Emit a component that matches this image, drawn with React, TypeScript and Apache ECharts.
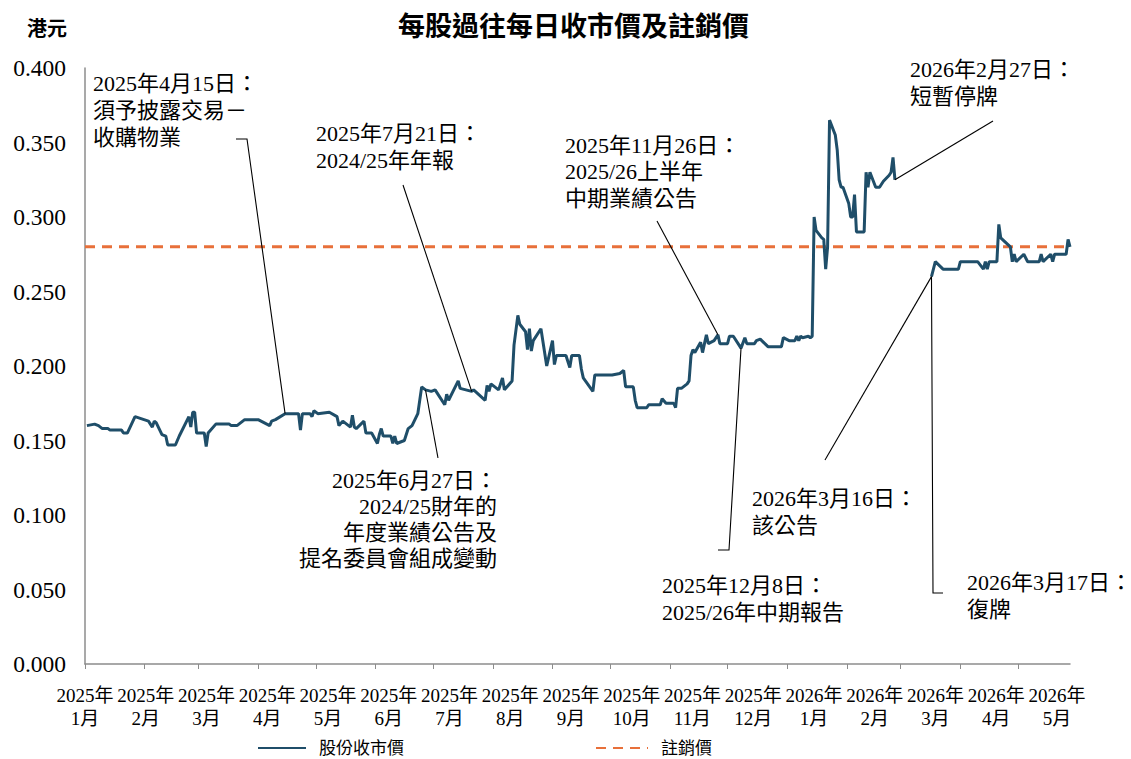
import React, { useEffect, useRef } from "react";
import * as echarts from "echarts";

const FONT = "'Liberation Serif', 'Times New Roman', 'Noto Sans CJK TC', serif";

const TITLE = "每股過往每日收市價及註銷價";
const UNIT = "港元";
const SERIES_PRICE = "股份收市價";
const SERIES_CANCEL = "註銷價";
const CANCEL_PRICE = 0.28;
const AXIS_START = "2025-01-01";
const AXIS_END = "2026-05-28";

const monthTickDates = [
  "2025-01-01", "2025-02-01", "2025-03-01", "2025-04-01", "2025-05-01", "2025-06-01",
  "2025-07-01", "2025-08-01", "2025-09-01", "2025-10-01", "2025-11-01", "2025-12-01",
  "2026-01-01", "2026-02-01", "2026-03-01", "2026-04-01", "2026-05-01",
];
const monthLabels = [
  "2025年\n1月", "2025年\n2月", "2025年\n3月", "2025年\n4月", "2025年\n5月", "2025年\n6月",
  "2025年\n7月", "2025年\n8月", "2025年\n9月", "2025年\n10月", "2025年\n11月", "2025年\n12月",
  "2026年\n1月", "2026年\n2月", "2026年\n3月", "2026年\n4月", "2026年\n5月",
];

const priceDates = [
  "2025-01-02","2025-01-06","2025-01-08","2025-01-10","2025-01-13","2025-01-14","2025-01-20","2025-01-21","2025-01-23","2025-01-27",
  "2025-02-03","2025-02-04","2025-02-05","2025-02-06","2025-02-07","2025-02-10","2025-02-12","2025-02-13","2025-02-17","2025-02-19",
  "2025-02-24","2025-02-25","2025-02-26","2025-02-27","2025-02-28","2025-03-04","2025-03-05","2025-03-06","2025-03-10","2025-03-17",
  "2025-03-18","2025-03-21","2025-03-25","2025-04-01","2025-04-07","2025-04-08","2025-04-10","2025-04-15","2025-04-22","2025-04-23",
  "2025-04-24","2025-04-28","2025-04-29","2025-04-30","2025-05-02","2025-05-08","2025-05-12","2025-05-13","2025-05-15","2025-05-19",
  "2025-05-20","2025-05-21","2025-05-22","2025-05-26","2025-05-27","2025-05-30","2025-06-02","2025-06-03","2025-06-04","2025-06-05",
  "2025-06-09","2025-06-10","2025-06-11","2025-06-12","2025-06-16","2025-06-18","2025-06-20","2025-06-23","2025-06-25","2025-06-27",
  "2025-06-30","2025-07-02","2025-07-03","2025-07-07","2025-07-08","2025-07-09","2025-07-14","2025-07-15","2025-07-21","2025-07-22",
  "2025-07-28","2025-07-29","2025-07-30","2025-07-31","2025-08-04","2025-08-06","2025-08-07","2025-08-11","2025-08-12","2025-08-14",
  "2025-08-15","2025-08-18","2025-08-19","2025-08-20","2025-08-21","2025-08-22","2025-08-26","2025-08-29","2025-09-01","2025-09-02",
  "2025-09-03","2025-09-08","2025-09-10","2025-09-11","2025-09-15","2025-09-16","2025-09-17","2025-09-22","2025-09-23","2025-10-02",
  "2025-10-06","2025-10-08","2025-10-09","2025-10-13","2025-10-14","2025-10-15","2025-10-20","2025-10-21","2025-10-27","2025-10-28",
  "2025-10-30","2025-11-03","2025-11-04","2025-11-05","2025-11-07","2025-11-10","2025-11-11","2025-11-12","2025-11-13","2025-11-14",
  "2025-11-17","2025-11-18","2025-11-19","2025-11-20","2025-11-21","2025-11-24","2025-11-26","2025-11-27","2025-12-01","2025-12-02",
  "2025-12-04","2025-12-08","2025-12-10","2025-12-11","2025-12-15","2025-12-16","2025-12-18","2025-12-22","2025-12-29","2025-12-30",
  "2026-01-02","2026-01-05","2026-01-06","2026-01-07","2026-01-08","2026-01-09","2026-01-12","2026-01-13","2026-01-14","2026-01-15",
  "2026-01-16","2026-01-19","2026-01-20","2026-01-21","2026-01-22","2026-01-23","2026-01-26","2026-01-27","2026-01-28","2026-01-29",
  "2026-01-30","2026-02-02","2026-02-03","2026-02-04","2026-02-05","2026-02-06","2026-02-10","2026-02-11","2026-02-12","2026-02-13",
  "2026-02-16","2026-02-18","2026-02-20","2026-02-23","2026-02-24","2026-02-25","2026-02-26","2026-03-02","2026-03-17","2026-03-19",
  "2026-03-23","2026-03-31","2026-04-01","2026-04-10","2026-04-13","2026-04-14","2026-04-15","2026-04-16","2026-04-20","2026-04-21",
  "2026-04-22","2026-04-27","2026-04-28","2026-04-29","2026-04-30","2026-05-04","2026-05-06","2026-05-12","2026-05-13","2026-05-14",
  "2026-05-18","2026-05-19","2026-05-20","2026-05-26","2026-05-27","2026-05-28",
];

const priceValues: (number | null)[] = [
  0.160,0.161,0.160,0.158,0.158,0.157,0.157,0.155,0.155,0.166,
  0.163,0.161,0.159,0.163,0.162,0.154,0.153,0.147,0.147,0.153,
  0.166,0.159,0.169,0.169,0.155,0.155,0.146,0.155,0.161,0.161,
  0.160,0.160,0.164,0.164,0.160,0.163,0.164,0.168,0.168,0.157,
  0.168,0.168,0.166,0.170,0.168,0.169,0.166,0.160,0.163,0.159,
  0.167,0.159,0.158,0.163,0.155,0.155,0.148,0.154,0.158,0.153,
  0.153,0.148,0.153,0.148,0.150,0.158,0.160,0.168,0.186,0.184,
  0.183,0.184,0.182,0.174,0.181,0.177,0.190,0.185,0.183,0.184,
  0.177,0.187,0.183,0.188,0.184,0.192,0.184,0.190,0.214,0.234,
  0.228,0.223,0.211,0.225,0.210,0.217,0.225,0.200,0.217,0.201,
  0.207,0.207,0.199,0.207,0.207,0.198,0.192,0.183,0.194,0.194,
  0.195,0.197,0.186,0.186,0.177,0.172,0.172,0.174,0.174,0.178,
  0.175,0.175,0.172,0.185,0.185,0.188,0.190,0.207,0.211,0.209,
  0.216,0.209,0.215,0.221,0.215,0.217,0.221,0.215,0.215,0.220,
  0.220,0.212,0.219,0.215,0.215,0.217,0.218,0.213,0.213,0.219,
  0.217,0.217,0.220,0.217,0.220,0.219,0.220,0.219,0.220,0.300,
  0.291,0.286,0.285,0.265,0.280,0.365,0.355,0.345,0.325,0.320,
  0.320,0.309,0.300,0.300,0.315,0.290,0.290,0.330,0.320,0.330,
  0.320,0.320,0.324,0.328,0.330,0.340,0.325,null,0.260,0.270,
  0.265,0.265,0.270,0.270,0.265,0.270,0.265,0.270,0.270,0.295,
  0.286,0.280,0.270,0.275,0.270,0.275,0.270,0.270,0.275,0.270,
  0.275,0.270,0.275,0.275,0.285,0.280,
];

// Annotations: anchor on the price line + text block + connector elbows
const annotations = [
  { date: "2025-04-15", value: 0.168, lines: ["2025年4月15日：", "須予披露交易－", "收購物業"], tx: 93, ty: 70, align: "left", lh: 27, before: [[236, 139], [247, 139]], after: [] },
  { date: "2025-07-21", value: 0.183, lines: ["2025年7月21日：", "2024/25年年報"], tx: 316, ty: 120, align: "left", lh: 27, before: [[403, 185]], after: [] },
  { date: "2025-06-27", value: 0.184, lines: ["2025年6月27日：", "2024/25財年的", "年度業績公告及", "提名委員會組成變動"], tx: 497, ty: 467, align: "right", lh: 26, before: [], after: [[438, 458]] },
  { date: "2025-11-26", value: 0.221, lines: ["2025年11月26日：", "2025/26上半年", "中期業績公告"], tx: 565, ty: 132, align: "left", lh: 26.5, before: [[657, 221]], after: [] },
  { date: "2025-12-08", value: 0.212, lines: ["2025年12月8日：", "2025/26年中期報告"], tx: 662, ty: 572, align: "left", lh: 27, before: [], after: [[729, 550], [718, 550]] },
  { date: "2026-02-26", value: 0.325, lines: ["2026年2月27日：", "短暫停牌"], tx: 910, ty: 56, align: "left", lh: 27, before: [[993, 121]], after: [] },
  { date: "2026-03-17", value: 0.260, lines: ["2026年3月16日：", "該公告"], tx: 752, ty: 485, align: "left", lh: 27, before: [], after: [[825, 460]] },
  { date: "2026-03-17", value: 0.260, lines: ["2026年3月17日：", "復牌"], tx: 967, ty: 569, align: "left", lh: 27, before: [], after: [[933, 593], [943, 593]] },
];

const DAY = 86400000;
const LABEL_STEP_DAYS = 31.575;

function dayIndex(s: string): number {
  const [y, m, d] = s.split("-").map(Number);
  const [y0, m0, d0] = AXIS_START.split("-").map(Number);
  return Math.round((Date.UTC(y, m - 1, d) - Date.UTC(y0, m0 - 1, d0)) / DAY);
}

export default function App() {
  const ref = useRef<HTMLDivElement>(null);

  useEffect(() => {
    if (!ref.current) return;
    const chart = echarts.init(ref.current, null, { renderer: "svg" });
    const maxDay = dayIndex(AXIS_END);
    const tickVals = monthTickDates.map(dayIndex);
    const labelVals = monthLabels.map((_, i) => i * LABEL_STEP_DAYS);

    const priceData = priceDates.map((d, i) => [dayIndex(d), priceValues[i] === null ? "-" : priceValues[i]]);
    const cancelData = [[0, CANCEL_PRICE], [maxDay, CANCEL_PRICE]];

    const hiddenSymbol = { color: "rgba(0,0,0,0)", borderColor: "rgba(0,0,0,0)", borderWidth: 0, opacity: 0 };

    const option: any = {
      animation: false,
      backgroundColor: "#ffffff",
      textStyle: { fontFamily: FONT },
      title: [
        { text: TITLE, left: 393, top: 8, textStyle: { fontSize: 27, fontWeight: "bold", color: "#000", fontFamily: FONT } },
        { text: UNIT, left: 22, top: 14, textStyle: { fontSize: 20, fontWeight: "bold", color: "#000", fontFamily: FONT } },
      ],
      legend: [
        {
          data: [SERIES_PRICE], left: 252, top: 734, itemWidth: 48, itemHeight: 14,
          itemStyle: hiddenSymbol,
          textStyle: { fontSize: 17, lineHeight: 18, color: "#000", fontFamily: FONT, padding: [0, 0, 0, 8] },
        },
        {
          data: [SERIES_CANCEL], left: 590, top: 734, itemWidth: 52, itemHeight: 14,
          itemStyle: hiddenSymbol,
          textStyle: { fontSize: 17, lineHeight: 18, color: "#000", fontFamily: FONT, padding: [0, 0, 0, 8] },
        },
      ],
      grid: { left: 85, right: 61, top: 68, bottom: 95 },
      xAxis: {
        type: "value",
        min: 0,
        max: maxDay,
        axisLine: { show: true, lineStyle: { color: "#8c8c8c", width: 1.5 } },
        axisTick: { show: true, customValues: tickVals, length: 5, lineStyle: { color: "#8c8c8c", width: 1 } },
        axisLabel: {
          customValues: labelVals,
          formatter: (v: number) => {
            const idx = Math.round(v / LABEL_STEP_DAYS);
            return monthLabels[idx] ?? "";
          },
          fontSize: 19, lineHeight: 23, color: "#000", fontFamily: FONT, margin: 20, hideOverlap: false,
        },
        splitLine: { show: false },
        minorTick: { show: false },
      },
      yAxis: {
        type: "value",
        min: 0,
        max: 0.4,
        interval: 0.05,
        axisLine: { show: true, lineStyle: { color: "#8c8c8c", width: 1.5 } },
        axisTick: { show: false },
        axisLabel: { formatter: (v: number) => v.toFixed(3), fontSize: 23.5, color: "#000", fontFamily: FONT, margin: 19 },
        splitLine: { show: false },
      },
      series: [
        {
          name: SERIES_PRICE,
          type: "line",
          data: priceData,
          symbol: "none",
          connectNulls: false,
          lineStyle: { color: "#1f4e69", width: 3 },
          itemStyle: { color: "#1f4e69" },
          z: 3,
        },
        {
          name: SERIES_CANCEL,
          type: "line",
          data: cancelData,
          symbol: "none",
          lineStyle: { color: "#e8703a", width: 3, type: [10, 7] },
          itemStyle: { color: "#e8703a" },
          z: 2,
        },
      ],
    };
    chart.setOption(option);

    const graphics: any[] = [];
    annotations.forEach((a) => {
      const p = chart.convertToPixel({ xAxisIndex: 0, yAxisIndex: 0 }, [dayIndex(a.date), a.value]) as number[];
      const pts = [...a.before, p, ...a.after];
      graphics.push({
        type: "polyline",
        shape: { points: pts },
        style: { stroke: "#000", lineWidth: 1.1, fill: null },
        z: 10,
        silent: true,
      });
      graphics.push({
        type: "text",
        x: a.tx,
        y: a.ty,
        style: {
          text: a.lines.join("\n"),
          fontSize: 22,
          fontFamily: FONT,
          fill: "#000",
          lineHeight: a.lh,
          align: a.align,
          verticalAlign: "top",
        },
        z: 10,
        silent: true,
      });
    });
    chart.setOption({ graphic: graphics });

    return () => chart.dispose();
  }, []);

  return (
    <div
      ref={ref}
      style={{ position: "fixed", left: 0, top: 0, width: 1131, height: 759, background: "#fff" }}
    />
  );
}
